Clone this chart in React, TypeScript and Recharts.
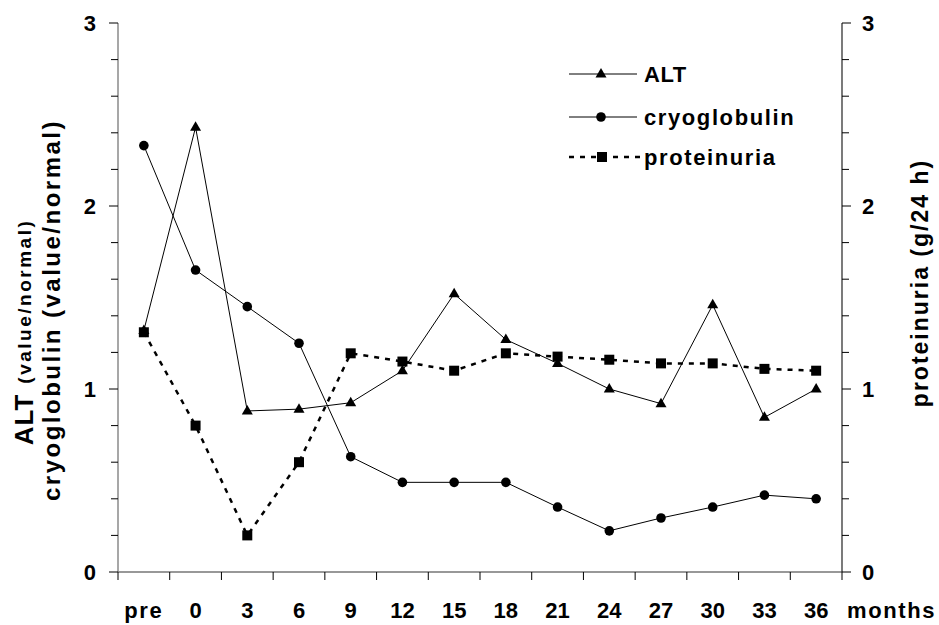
import React from 'react';
import { LineChart, Line, XAxis, YAxis, Legend } from 'recharts';

const months = ['pre', '0', '3', '6', '9', '12', '15', '18', '21', '24', '27', '30', '33', '36'];
const alt = [1.32, 2.43, 0.88, 0.89, 0.925, 1.1, 1.52, 1.27, 1.14, 1.0, 0.92, 1.46, 0.845, 1.0];
const cryoglobulin = [2.33, 1.65, 1.45, 1.25, 0.63, 0.49, 0.49, 0.49, 0.355, 0.225, 0.295, 0.355, 0.42, 0.4];
const proteinuria = [1.31, 0.8, 0.2, 0.6, 1.195, 1.15, 1.1, 1.195, 1.177, 1.16, 1.14, 1.14, 1.11, 1.1];
const yTicks = [0, 0.2, 0.4, 0.6, 0.8, 1, 1.2, 1.4, 1.6, 1.8, 2, 2.2, 2.4, 2.6, 2.8, 3];
const yLabeled = [0, 1, 2, 3];
const seriesNames = ['ALT', 'cryoglobulin', 'proteinuria'];
const xUnit = 'months';

const data = months.map((m, i) => ({
  month: m,
  ALT: alt[i],
  cryoglobulin: cryoglobulin[i],
  proteinuria: proteinuria[i],
}));

const W = 939;
const H = 625;
const PLOT_L = 118;
const PLOT_R = 842;
const PLOT_T = 23;
const PLOT_B = 572;
const STEP = (PLOT_R - PLOT_L) / months.length;
const FONT = "'Liberation Sans', Arial, Helvetica, sans-serif";
const FS = 22;
const isWord = (s: string) => /[a-z]/.test(s);

const TriangleDot = (p: any) => {
  const { cx, cy } = p;
  if (cx == null || cy == null) return null;
  return <path d={`M${cx},${cy - 6} L${cx + 5.5},${cy + 3.5} L${cx - 5.5},${cy + 3.5} Z`} fill="#000" />;
};
const CircleDot = (p: any) => {
  const { cx, cy } = p;
  if (cx == null || cy == null) return null;
  return <circle cx={cx} cy={cy} r={4.8} fill="#000" />;
};
const SquareDot = (p: any) => {
  const { cx, cy } = p;
  if (cx == null || cy == null) return null;
  return <rect x={cx - 5} y={cy - 5} width={10} height={10} fill="#000" />;
};

const XTick = (p: any) => {
  const { x, y, payload, index } = p;
  const last = index === months.length - 1;
  const v = String(payload.value);
  return (
    <g>
      <line x1={x - STEP / 2} x2={x - STEP / 2} y1={y} y2={y + 8} stroke="#000" strokeWidth={1} />
      {last && <line x1={x + STEP / 2} x2={x + STEP / 2} y1={y} y2={y + 8} stroke="#000" strokeWidth={1} />}
      <text
        x={x}
        y={y + 46}
        textAnchor="middle"
        fontFamily={FONT}
        fontWeight="bold"
        fontSize={FS}
        letterSpacing={isWord(v) ? 1.6 : 0}
        fill="#000"
      >
        {v}
      </text>
      {last && (
        <text x={x + STEP / 2 + 5} y={y + 46} textAnchor="start" fontFamily={FONT} fontWeight="bold" fontSize={FS} letterSpacing={1.6} fill="#000">
          {xUnit}
        </text>
      )}
    </g>
  );
};

const isMajor = (v: number) => yLabeled.some((t) => Math.abs(t - v) < 1e-6);

const LeftTick = (p: any) => {
  const { x, y, payload } = p;
  const major = isMajor(payload.value);
  return (
    <g>
      <line x1={x - (major ? 9 : 7)} x2={x} y1={y} y2={y} stroke="#000" strokeWidth={1} />
      {major && (
        <text x={x - 22} y={y} dy={8} textAnchor="end" fontFamily={FONT} fontWeight="bold" fontSize={FS} fill="#000">
          {Math.round(payload.value)}
        </text>
      )}
    </g>
  );
};

const RightTick = (p: any) => {
  const { x, y, payload } = p;
  const major = isMajor(payload.value);
  return (
    <g>
      <line x1={x} x2={x + (major ? 9 : 7)} y1={y} y2={y} stroke="#000" strokeWidth={1} />
      {major && (
        <text x={x + 20} y={y} dy={8} textAnchor="start" fontFamily={FONT} fontWeight="bold" fontSize={FS} fill="#000">
          {Math.round(payload.value)}
        </text>
      )}
    </g>
  );
};

const LeftTitle = () => (
  <g>
    <text transform="translate(24,332) rotate(-90)" textAnchor="middle" dominantBaseline="central" fontFamily={FONT} fontWeight="bold" fill="#000">
      <tspan fontSize={26} letterSpacing={1}>ALT</tspan>
      <tspan fontSize={19} dx={10} letterSpacing={2.5}>(value/normal)</tspan>
    </text>
    <text transform="translate(51,310) rotate(-90)" textAnchor="middle" dominantBaseline="central" fontFamily={FONT} fontWeight="bold" fill="#000" letterSpacing={2.5}>
      <tspan fontSize={24}>cryoglobulin</tspan>
      <tspan fontSize={24} dx={9}>(value/normal)</tspan>
    </text>
  </g>
);

const RightTitle = () => (
  <text transform="translate(920,283) rotate(-90)" textAnchor="middle" dominantBaseline="central" fontFamily={FONT} fontWeight="bold" fontSize={23} letterSpacing={2} fill="#000">
    proteinuria (g/24 h)
  </text>
);

const LegendContent = () => {
  const rows = [19, 62, 102];
  return (
    <svg width={260} height={120} style={{ overflow: 'visible' }}>
      {seriesNames.map((name, i) => {
        const y = rows[i];
        const dashed = name === 'proteinuria';
        return (
          <g key={name}>
            <line
              x1={9}
              x2={dashed ? 80 : 77}
              y1={y}
              y2={y}
              stroke="#000"
              strokeWidth={dashed ? 2.5 : 1}
              strokeDasharray={dashed ? '5 6' : undefined}
            />
            {i === 0 && <TriangleDot cx={41} cy={y} />}
            {i === 1 && <CircleDot cx={41} cy={y} />}
            {i === 2 && <SquareDot cx={42} cy={y} />}
            <text
              x={84}
              y={y}
              dy={8}
              fontFamily={FONT}
              fontWeight="bold"
              fontSize={FS}
              letterSpacing={name === 'ALT' ? 0.5 : 1.6}
              fill="#000"
            >
              {name}
            </text>
          </g>
        );
      })}
    </svg>
  );
};

export default function App() {
  return (
    <div style={{ position: 'absolute', left: 0, top: 0, width: W, height: H, background: '#fff' }}>
      <LineChart
        width={W}
        height={H}
        data={data}
        margin={{ top: PLOT_T, right: W - PLOT_R - 60, bottom: H - PLOT_B - 40, left: PLOT_L - 60 }}
      >
        <XAxis
          dataKey="month"
          height={40}
          interval={0}
          padding={{ left: STEP / 2, right: STEP / 2 }}
          tickSize={0}
          tickMargin={0}
          tickLine={false}
          axisLine={{ stroke: '#333', strokeWidth: 1.2 }}
          tick={<XTick />}
        />
        <YAxis
          yAxisId="left"
          orientation="left"
          width={60}
          domain={[0, 3]}
          ticks={yTicks}
          interval={0}
          tickSize={0}
          tickMargin={0}
          tickLine={false}
          axisLine={{ stroke: '#8a8a8a', strokeWidth: 1.5 }}
          tick={<LeftTick />}
          label={{ content: () => <LeftTitle /> }}
        />
        <YAxis
          yAxisId="right"
          orientation="right"
          width={60}
          domain={[0, 3]}
          ticks={yTicks}
          interval={0}
          tickSize={0}
          tickMargin={0}
          tickLine={false}
          axisLine={{ stroke: '#222', strokeWidth: 1.2 }}
          tick={<RightTick />}
          label={{ content: () => <RightTitle /> }}
        />
        <Legend
          layout="horizontal"
          verticalAlign="middle"
          align="center"
          content={() => <LegendContent />}
          wrapperStyle={{ position: 'absolute', left: 560, top: 55, width: 260, height: 120 }}
        />
        <Line
          yAxisId="left"
          dataKey="ALT"
          stroke="#000"
          strokeWidth={1}
          dot={<TriangleDot />}
          activeDot={false}
          isAnimationActive={false}
        />
        <Line
          yAxisId="left"
          dataKey="cryoglobulin"
          stroke="#000"
          strokeWidth={1}
          dot={<CircleDot />}
          activeDot={false}
          isAnimationActive={false}
        />
        <Line
          yAxisId="right"
          dataKey="proteinuria"
          stroke="#000"
          strokeWidth={2.5}
          strokeDasharray="5 6"
          dot={<SquareDot />}
          activeDot={false}
          isAnimationActive={false}
        />
      </LineChart>
    </div>
  );
}
